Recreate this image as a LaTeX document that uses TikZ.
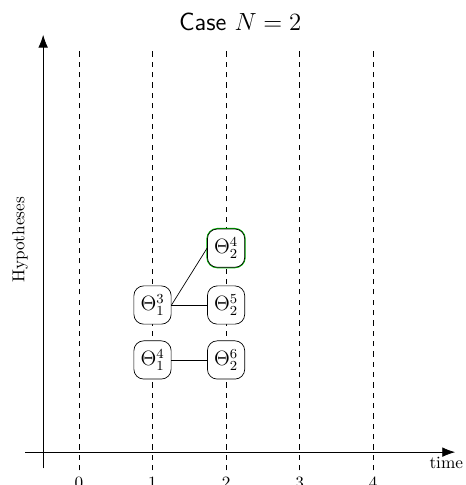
\documentclass[tikz,border=0pt]{standalone}
\usetikzlibrary{arrows.meta, positioning, calc}

\begin{document}
\begin{tikzpicture}[
hyp/.style={rectangle, draw, rounded corners=0.2cm, fill=white, minimum width=0.76cm, minimum height=0.78cm, inner sep=1pt, font=\large},
chosen/.style={hyp, preaction={draw=green!75!black, line width=1.2pt}},
timeline/.style={dashed},
axis/.style={-{Latex[length=2.6mm]}}
]
\useasboundingbox (-1.61,-0.67) rectangle (7.88,9.22);
% time lines
\foreach \t in {0,...,4} {
  \draw[timeline] (1.5*\t,-0.37) -- (1.5*\t,8.2);
  \node[below] (lab\t) at (1.5*\t,-0.38) {\t};
}
% axes
\draw[axis] (-1.1,0) -- (7.67,0);
\draw[axis] (-0.73,-0.33) -- (-0.73,8.51);
\node (time) at (7.49,-0.22) {time};
\node[rotate=90] (hyps) at (-1.2,4.33) {Hypotheses};
\node (title) at (3.29,8.78) {\Large\sffamily Case $N=2$};
% hypotheses
\node[hyp] (t13) at (1.5,3.0) {$\Theta_1^3$};
\node[hyp] (t14) at (1.5,1.88) {$\Theta_1^4$};
\node[chosen] (t24) at (3,4.16) {$\Theta_2^4$};
\node[hyp] (t25) at (3,3.0) {$\Theta_2^5$};
\node[hyp] (t26) at (3,1.88) {$\Theta_2^6$};
\draw (t13.east) -- (t24.west);
\draw (t13) -- (t25);
\draw (t14) -- (t26);
\end{tikzpicture}
\end{document}
